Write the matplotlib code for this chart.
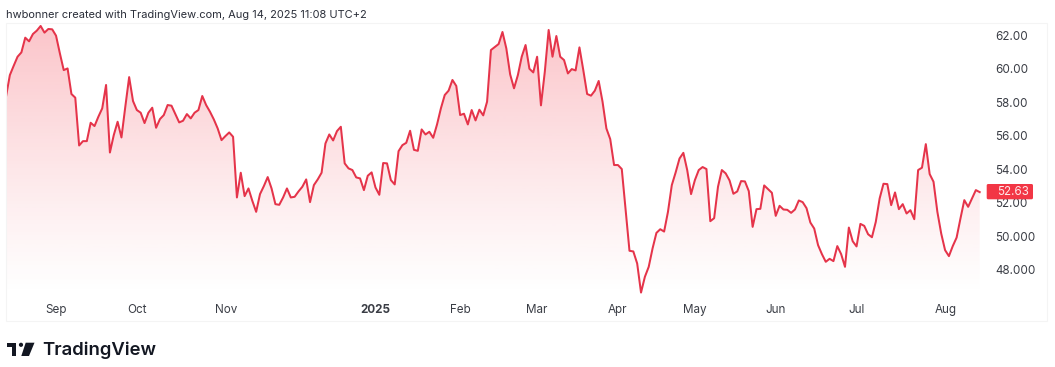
import numpy as np
import matplotlib
matplotlib.use("Agg")
import matplotlib.pyplot as plt
from matplotlib.patches import Rectangle, Polygon, Ellipse, FancyBboxPatch
from matplotlib.transforms import IdentityTransform

W, H = 1055, 367

values = [
58.34,59.63,60.19,60.73,60.99,61.87,61.65,62.09,62.29,62.57,62.17,62.39,62.37,61.99,60.93,59.93,60.03,58.50,58.28,55.42,
55.68,55.68,56.78,56.58,57.14,57.64,59.04,55.00,56.04,56.84,55.90,57.74,59.51,58.08,57.54,57.38,56.76,57.38,57.68,56.48,
57.00,57.24,57.84,57.80,57.30,56.80,56.90,57.30,57.04,57.38,57.54,58.38,57.84,57.44,56.98,56.44,55.74,55.98,56.20,55.94,
52.31,53.79,52.39,52.85,52.11,51.45,52.51,52.99,53.53,52.85,51.91,51.87,52.31,52.85,52.31,52.35,52.67,52.95,53.39,52.03,
53.05,53.39,53.79,55.54,56.08,55.72,56.28,56.54,54.35,54.05,53.95,53.51,53.45,52.75,53.61,53.81,52.91,52.47,54.37,54.35,
53.35,53.09,55.08,55.44,55.58,56.30,55.16,55.10,56.38,56.08,56.24,55.88,56.68,57.64,58.44,58.70,59.34,58.98,57.24,57.32,
56.68,57.54,56.92,57.56,57.22,58.04,61.13,61.31,61.49,62.21,61.23,59.67,58.84,59.63,60.73,61.43,60.01,59.79,60.73,57.82,
59.83,62.33,60.73,61.97,60.73,60.53,59.73,59.99,59.91,61.29,59.93,58.50,58.40,58.70,59.28,58.04,56.44,55.80,54.25,54.25,
54.01,51.55,49.12,49.08,48.36,46.62,47.56,48.16,49.26,50.19,50.41,50.27,51.45,53.05,53.81,54.64,54.98,53.95,52.51,53.35,
53.95,54.13,54.01,50.89,51.07,52.95,53.95,53.75,53.33,52.53,52.67,53.29,53.27,52.69,50.55,51.61,51.63,53.03,52.81,52.59,
51.21,51.81,51.59,51.57,51.39,51.59,52.13,52.03,51.67,50.81,50.45,49.46,48.92,48.46,48.64,48.50,49.40,48.92,48.16,50.51,
49.69,49.38,50.73,50.61,50.11,49.93,50.85,52.25,53.13,53.11,51.85,52.61,51.61,51.91,51.35,51.55,51.01,53.95,54.09,55.50,
53.71,53.25,51.45,50.15,49.16,48.80,49.40,49.91,51.05,52.15,51.75,52.25,52.75,52.63,
]
price_ticks = [48, 50, 52, 54, 56, 58, 60, 62]
price_labels = ["48.000", "50.000", "52.00", "54.00", "56.00", "58.00", "60.00", "62.00"]
time_ticks = [13.0, 34.0, 57.2, 96.1, 118.0, 138.0, 159.0, 179.0, 200.0, 221.0, 244.2]
time_labels = ["Sep", "Oct", "Nov", "2025", "Feb", "Mar", "Apr", "May", "Jun", "Jul", "Aug"]
title = "hwbonner created with TradingView.com, Aug 14, 2025 11:08 UTC+2"

RED = "#E5344A"
TXT = "#3a3d45"
plt.rcParams["font.family"] = ["Inter", "DejaVu Sans"]

fig = plt.figure(figsize=(W / 100, H / 100), dpi=100, facecolor="white")
L, R, T, B = 6, 985, 23, 296
ax = fig.add_axes([L / W, 1 - B / H, (R - L) / W, (B - T) / H])
x = np.arange(len(values))
spacing = (979.7 - L) / (len(values) - 1)
ax.set_xlim(0, (R - L) / spacing)
ppu = 234 / 14
ax.set_ylim(48 - (B - 269.5) / ppu, 62 + (35.5 - T) / ppu)

poly = ax.fill_between(x, values, ax.get_ylim()[0], color="none", lw=0)
grad = np.zeros((256, 1, 4))
grad[..., 0] = 0.95
grad[..., 1] = 0.2
grad[..., 2] = 0.27
grad[..., 3] = (0.29 * (1 - np.linspace(0, 1, 256)) ** 1.15)[:, None]
im = ax.imshow(grad, extent=[*ax.get_xlim(), *ax.get_ylim()], aspect="auto", origin="upper", zorder=1)
im.set_clip_path(poly.get_paths()[0], transform=ax.transData)
ax.plot(x, values, color=RED, lw=1.45, solid_joinstyle="round", zorder=3)

for s in ax.spines.values():
    s.set_visible(False)
ax.yaxis.tick_right()
ax.set_yticks(price_ticks, price_labels, color=TXT, fontsize=8.4)
ax.set_xticks(time_ticks, time_labels, color=TXT, fontsize=8.4)
ax.tick_params(axis="both", length=0)
ax.tick_params(axis="y", pad=7.5)
ax.tick_params(axis="x", pad=6)
ax.get_xticklabels()[3].set_fontweight("bold")

fig.add_artist(FancyBboxPatch((987.7, H - 198.3), 44.3, 13.3,
                              boxstyle="round,pad=1,rounding_size=1.5", transform=IdentityTransform(),
                              fc="#F23645", ec="none", zorder=2))
fig.text(997 / W, 1 - 192 / H, f"{values[-1]:.2f}", color="#FFE9EB", fontsize=8.4, va="center", ha="left", zorder=3)

fig.add_artist(Rectangle((6 / W, 1 - 321 / H), 1041 / W, 298 / H, transform=fig.transFigure,
                         fc="none", ec="#f4f4f4", lw=0.8))
fig.text(6 / W, 1 - 15 / H, title, fontsize=7.95, color="#2a2e39", va="center", ha="left")

def P(pts):
    return [(a / W, 1 - b / H) for a, b in pts]
K = "#131722"
fig.add_artist(Polygon(P([(7.3, 342.7), (15.8, 342.7), (15.8, 356), (11.8, 356), (11.8, 346.8), (7.3, 346.8)]),
                       transform=fig.transFigure, fc=K, ec="none"))
fig.add_artist(Polygon(P([(25.7, 342.7), (34.5, 342.7), (29, 356), (21.3, 356)]),
                       transform=fig.transFigure, fc=K, ec="none"))
fig.add_artist(Ellipse((21 / W, 1 - 344.8 / H), 4.2 / W, 4.2 / H,
                       transform=fig.transFigure, fc=K, ec="none"))
fig.text(42 / W, 1 - 350 / H, "TradingView", fontsize=13.3, fontweight=600, color=K, va="center", ha="left")

fig.savefig("out.png", dpi=100)
